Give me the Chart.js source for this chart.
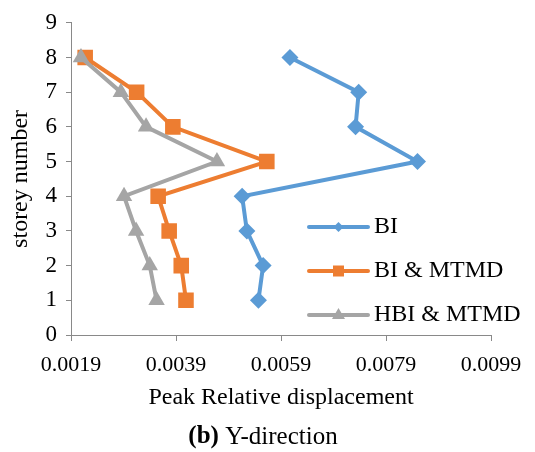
<!DOCTYPE html>
<html>
<head>
<meta charset="utf-8">
<script src="https://cdn.jsdelivr.net/npm/chart.js@4.4.1/dist/chart.umd.min.js"></script>
<style>
  html, body { margin: 0; padding: 0; background: #fff; }
  #chart { display: block; }
</style>
</head>
<body>
<canvas id="chart" width="535" height="452"></canvas>
<script>
// storey numbers and peak relative displacement per series
const storeys = [1, 2, 3, 4, 5, 6, 7, 8];
const biValues = [0.00547, 0.00556, 0.00525, 0.00516, 0.00850, 0.00732, 0.00738, 0.00607];
const biMtmdValues = [0.00409, 0.00400, 0.00377, 0.00356, 0.00563, 0.00384, 0.00315, 0.00217];
const hbiMtmdValues = [0.00353, 0.00340, 0.00314, 0.00291, 0.00468, 0.00333, 0.00285, 0.00209];
const xTicks = [0.0019, 0.0039, 0.0059, 0.0079, 0.0099];
const seriesNames = ["BI", "BI & MTMD", "HBI & MTMD"];

const serif = "'Liberation Serif', 'Times New Roman', serif";
const axisGrey = "#898989";

function toPoints(values) {
    return values.map(function (v, i) { return { x: v, y: storeys[i] }; });
}

// legend drawn inside the plot, like the Excel one
const insideLegend = {
    id: "insideLegend",
    afterDraw: function (chart) {
        const ctx = chart.ctx;
        const rows = [227, 271, 315];
        ctx.save();
        chart.data.datasets.forEach(function (ds, i) {
            const y = rows[i];
            ctx.strokeStyle = ds.borderColor;
            ctx.lineWidth = 4;
            ctx.lineCap = "round";
            ctx.beginPath();
            ctx.moveTo(309, y);
            ctx.lineTo(368, y);
            ctx.stroke();

            ctx.fillStyle = ds.borderColor;
            ctx.beginPath();
            const cx = 338.5;
            if (ds.pointStyle === "rectRot") {
                ctx.moveTo(cx, y - 5);
                ctx.lineTo(cx + 5, y);
                ctx.lineTo(cx, y + 5);
                ctx.lineTo(cx - 5, y);
            } else if (ds.pointStyle === "rect") {
                ctx.rect(cx - 5.5, y - 5.5, 11, 11);
            } else {
                ctx.moveTo(cx, y - 7);
                ctx.lineTo(cx + 6.5, y + 4);
                ctx.lineTo(cx - 6.5, y + 4);
            }
            ctx.closePath();
            ctx.fill();

            ctx.fillStyle = "#000";
            ctx.font = "24px " + serif;
            ctx.textBaseline = "middle";
            ctx.textAlign = "left";
            ctx.fillText(ds.label, 374, y);
        });
        ctx.restore();
    }
};

// "(b) Y-direction" caption under the axis title
const caption = {
    id: "caption",
    afterDraw: function (chart) {
        const ctx = chart.ctx;
        ctx.save();
        ctx.fillStyle = "#000";
        ctx.textBaseline = "middle";
        ctx.textAlign = "left";
        const bold = "bold 25px " + serif;
        const normal = "25px " + serif;
        ctx.font = bold;
        const w1 = ctx.measureText("(b)").width;
        ctx.font = normal;
        const w2 = ctx.measureText(" Y-direction").width;
        let x = 263 - (w1 + w2) / 2;
        ctx.font = bold;
        ctx.fillText("(b)", x, 437);
        ctx.font = normal;
        ctx.fillText(" Y-direction", x + w1, 437);
        ctx.restore();
    }
};

new Chart(document.getElementById("chart"), {
    type: "scatter",
    data: {
        datasets: [{
            label: seriesNames[0],
            data: toPoints(biValues),
            showLine: true,
            borderColor: "#5B9BD5",
            backgroundColor: "#5B9BD5",
            borderWidth: 4,
            pointStyle: "rectRot",
            pointRadius: 8.5,
            pointBorderWidth: 0,
            order: 3
        }, {
            label: seriesNames[1],
            data: toPoints(biMtmdValues),
            showLine: true,
            borderColor: "#ED7D31",
            backgroundColor: "#ED7D31",
            borderWidth: 4,
            pointStyle: "rect",
            pointRadius: 11,
            pointBorderWidth: 0,
            order: 2
        }, {
            label: seriesNames[2],
            data: toPoints(hbiMtmdValues),
            showLine: true,
            borderColor: "#A5A5A5",
            backgroundColor: "#A5A5A5",
            borderWidth: 4,
            pointStyle: "triangle",
            pointRadius: 9.5,
            pointBorderWidth: 0,
            order: 1
        }]
    },
    options: {
        responsive: false,
        animation: false,
        layout: {
            padding: { left: 0, right: 44, top: 19, bottom: 0 }
        },
        plugins: {
            legend: { display: false },
            tooltip: { enabled: false }
        },
        scales: {
            x: {
                type: "linear",
                min: 0.0019,
                max: 0.0099,
                afterBuildTicks: function (scale) {
                    scale.ticks = xTicks.map(function (v) { return { value: v }; });
                },
                afterFit: function (scale) { scale.height = 117; },
                grid: { drawOnChartArea: false, color: axisGrey, tickLength: 6 },
                border: { color: axisGrey, width: 1 },
                ticks: {
                    color: "#000",
                    font: { family: serif, size: 22 },
                    padding: 11,
                    maxRotation: 0,
                    callback: function (v) { return Number(v).toFixed(4); }
                },
                title: {
                    display: true,
                    text: "Peak Relative displacement",
                    color: "#000",
                    font: { family: serif, size: 24 },
                    padding: { top: 0, bottom: 40 }
                }
            },
            y: {
                min: 0,
                max: 9,
                afterFit: function (scale) { scale.width = 71; },
                grid: { drawOnChartArea: false, color: axisGrey, tickLength: 5 },
                border: { color: axisGrey, width: 1 },
                ticks: {
                    stepSize: 1,
                    color: "#000",
                    font: { family: serif, size: 23 },
                    padding: 9
                },
                title: {
                    display: true,
                    text: "storey number",
                    color: "#000",
                    font: { family: serif, size: 24 },
                    padding: { top: 6, bottom: 0 }
                }
            }
        }
    },
    plugins: [insideLegend, caption]
});
</script>
</body>
</html>
